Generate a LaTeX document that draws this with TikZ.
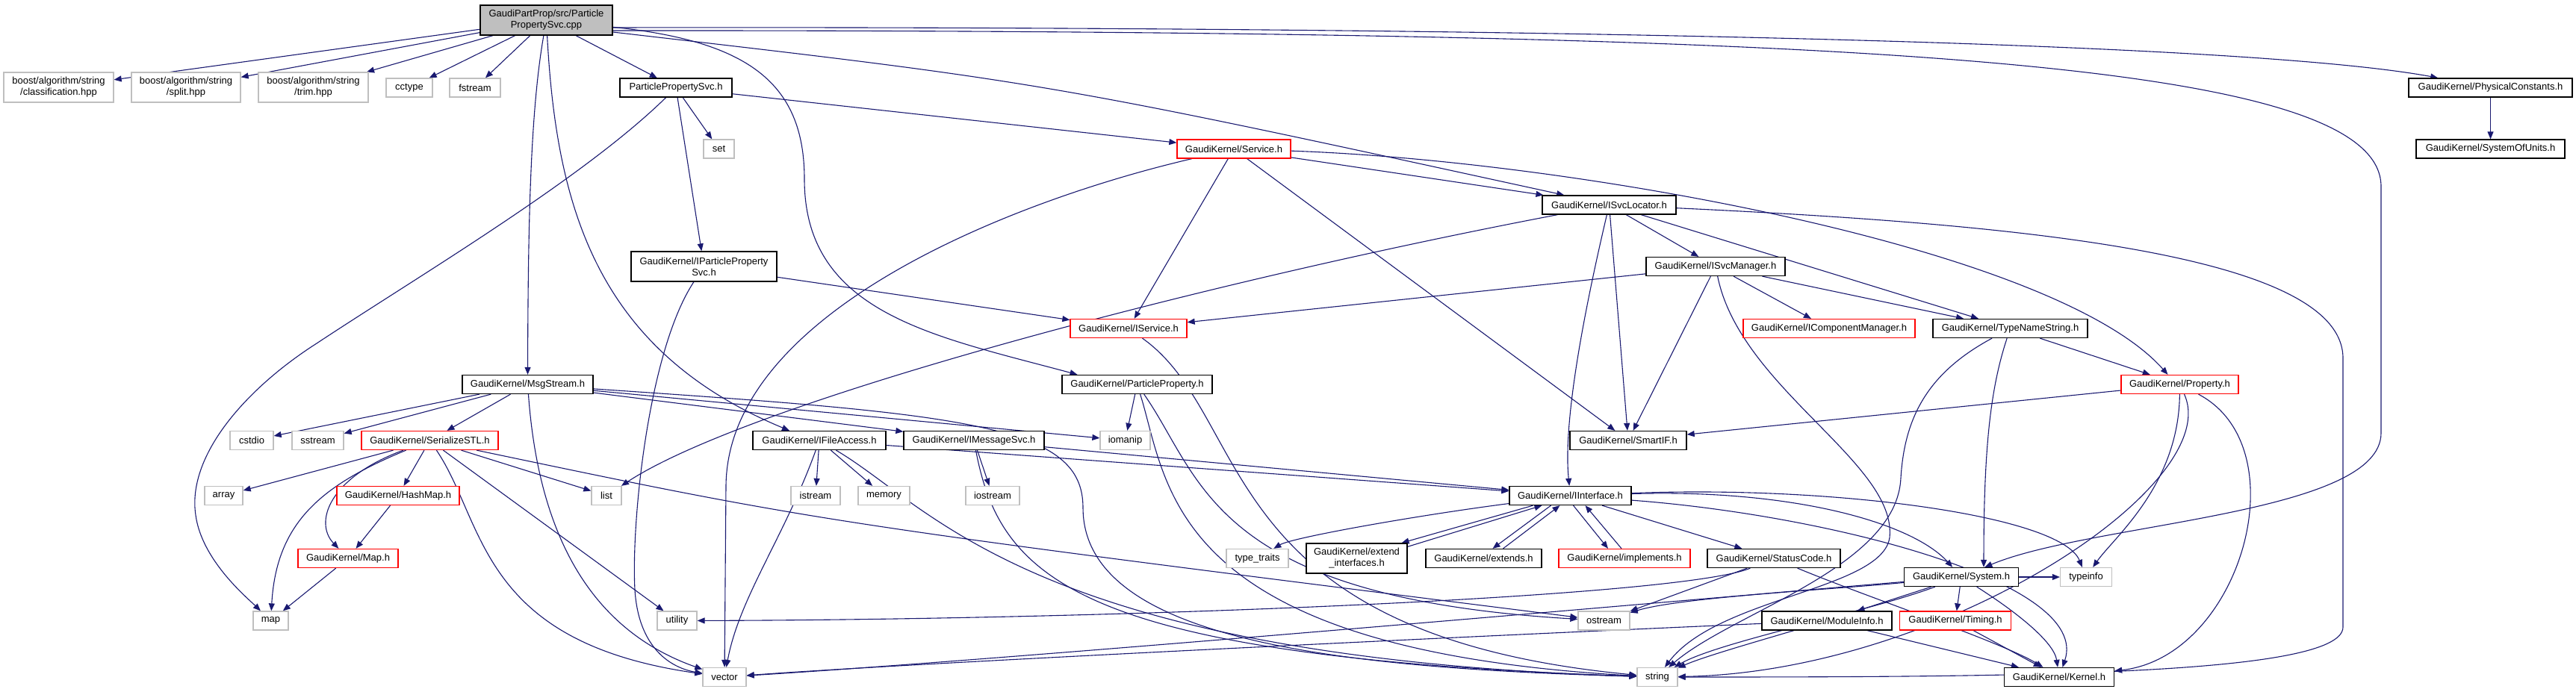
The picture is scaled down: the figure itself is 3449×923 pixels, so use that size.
\documentclass[tikz,border=0pt]{standalone}
\usepackage{fontspec}
\setmainfont{Liberation Sans}
\usetikzlibrary{arrows.meta}
\definecolor{edgec}{HTML}{191970}
\definecolor{gbord}{HTML}{BFBFBF}
\definecolor{rootfill}{HTML}{BFBFBF}
\pgfdeclarelayer{bg}
\pgfsetlayers{bg,main}
\begin{document}
\begin{tikzpicture}[x=1pt,y=-1pt,
  box/.style 2 args={inner sep=0pt, align=center, line width=1.3pt, fill=white,
    minimum width=#1pt, minimum height=#2pt, font=\fontsize{13}{15}\selectfont},
  nb/.style={draw=black},
  gb/.style={draw=gbord},
  rb/.style={draw=red},
  e/.style={draw=edgec, line width=1.1pt, -{Triangle[length=10pt,width=8pt]}}
]
\useasboundingbox (0,0) rectangle (3449,923);
% ---- nodes ----
\node[box={177}{40}, nb, fill=rootfill] (root) at (731.5,27) {GaudiPartProp/src/Particle\\PropertySvc.cpp};
\node[box={147}{40}, gb] (cls) at (78.5,117) {boost/algorithm/string\\/classification.hpp};
\node[box={146}{40}, gb] (split) at (249,117) {boost/algorithm/string\\/split.hpp};
\node[box={147}{40}, gb] (trim) at (419.5,117) {boost/algorithm/string\\/trim.hpp};
\node[box={62}{25}, gb] (cctype) at (548,117.5) {cctype};
\node[box={68}{25}, gb] (fstream) at (636,117.5) {fstream};
\node[box={150}{25}, nb] (pps) at (905,117.5) {ParticlePropertySvc.h};
\node[box={41}{25}, gb] (set) at (962.5,199.5) {set};
\node[box={152}{25}, rb] (svc) at (1652,199.5) {GaudiKernel/Service.h};
\node[box={179}{25}, nb] (isl) at (2154.5,274.5) {GaudiKernel/ISvcLocator.h};
\node[box={219}{25}, nb] (pc) at (3334.5,117.5) {GaudiKernel/PhysicalConstants.h};
\node[box={199}{25}, nb] (sou) at (3334.5,199.5) {GaudiKernel/SystemOfUnits.h};
\node[box={175}{25}, nb] (ms) at (706.5,515) {GaudiKernel/MsgStream.h};
\node[box={195}{40}, nb] (ipps) at (942.5,357) {GaudiKernel/IParticleProperty\\Svc.h};
\node[box={156}{25}, rb] (isv) at (1511,440) {GaudiKernel/IService.h};
\node[box={201}{25}, nb] (pp) at (1522.5,515) {GaudiKernel/ParticleProperty.h};
\node[box={186}{25}, nb] (ism) at (2297,357) {GaudiKernel/ISvcManager.h};
\node[box={230}{25}, rb] (icm) at (2449,440) {GaudiKernel/IComponentManager.h};
\node[box={207}{25}, nb] (tns) at (2691.5,440) {GaudiKernel/TypeNameString.h};
\node[box={157}{25}, rb] (prop) at (2918.5,515) {GaudiKernel/Property.h};
\node[box={156}{25}, nb] (sif) at (2180,590) {GaudiKernel/SmartIF.h};
\node[box={58}{25}, gb] (cstdio) at (337,590) {cstdio};
\node[box={69}{25}, gb] (sstream) at (425.5,590) {sstream};
\node[box={183}{25}, rb] (ser) at (575.5,590) {GaudiKernel/SerializeSTL.h};
\node[box={178}{25}, nb] (ifa) at (1097,590) {GaudiKernel/IFileAccess.h};
\node[box={188}{25}, nb] (ims) at (1304,590) {GaudiKernel/IMessageSvc.h};
\node[box={67}{25}, gb] (iomanip) at (1506.5,590) {iomanip};
\node[box={51}{25}, gb] (array) at (299.5,664) {array};
\node[box={164}{25}, rb] (hm) at (533,664) {GaudiKernel/HashMap.h};
\node[box={40}{25}, gb] (list) at (812,664) {list};
\node[box={66}{25}, gb] (istream) at (1092,664) {istream};
\node[box={69}{25}, gb] (memory) at (1183.5,664) {memory};
\node[box={72}{25}, gb] (iostream) at (1329,664) {iostream};
\node[box={163}{25}, nb] (ii) at (2102.5,664) {GaudiKernel/IInterface.h};
\node[box={134}{25}, rb] (mapk) at (466,748) {GaudiKernel/Map.h};
\node[box={83}{25}, gb] (tt) at (1683.5,748) {type\_traits};
\node[box={135}{40}, nb] (ei) at (1816.5,748) {GaudiKernel/extend\\\_interfaces.h};
\node[box={155}{25}, nb] (ext) at (1986.5,748) {GaudiKernel/extends.h};
\node[box={176}{25}, rb] (impl) at (2175,748) {GaudiKernel/implements.h};
\node[box={178}{25}, nb] (sc) at (2375,748) {GaudiKernel/StatusCode.h};
\node[box={153}{25}, nb] (sys) at (2626,773) {GaudiKernel/System.h};
\node[box={69}{25}, gb] (ti) at (2793,773) {typeinfo};
\node[box={47}{25}, gb] (map) at (362.5,831.5) {map};
\node[box={53}{25}, gb] (util) at (906.5,831.5) {utility};
\node[box={69}{25}, gb] (os) at (2147.5,831.5) {ostream};
\node[box={174}{25}, nb] (mi) at (2446,831.5) {GaudiKernel/ModuleInfo.h};
\node[box={149}{25}, rb] (tim) at (2618,831.5) {GaudiKernel/Timing.h};
\node[box={58}{25}, gb] (vec) at (970,907) {vector};
\node[box={54}{25}, gb] (str) at (2219,907) {string};
\node[box={147}{25}, nb] (ker) at (2757,907) {GaudiKernel/Kernel.h};
% ---- edges ----
\begin{pgfonlayer}{bg}
% root
\draw[e] (root) -- (cls);
\draw[e] (root) -- (split);
\draw[e] (root) -- (trim);
\draw[e] (root) -- (cctype);
\draw[e] (root) -- (fstream);
\draw[e] (root) -- (pps);
\draw[e] (root) .. controls (710,150) and (707,300) .. (ms);
\draw[e] (root) .. controls (745,280) and (800,470) .. ([xshift=-40pt]ifa.north);
\draw[e] (root) .. controls (1000,55) and (1077,110) .. (1077,240) .. controls (1077,420) and (1250,450) .. ([xshift=-80pt]pp.north);
\draw[e] ([yshift=-16pt]root.east) .. controls (1400,110) .. (isl);
\draw[e] ([yshift=-10pt]root.east) .. controls (2000,35) and (3000,55) .. (pc);
\draw[e] ([yshift=-14pt]root.east) .. controls (2500,40) and (3188,80) .. (3188,250) -- (3188,580) .. controls (3188,690) and (2800,700) .. (sys);
% pc
\draw[e] (pc) -- (sou);
% pps
\draw[e] (pps) -- (set);
\draw[e] (pps) -- (svc);
\draw[e] (pps) -- (ipps);
\draw[e] (pps) .. controls (780,240) and (560,370) .. (424,460) .. controls (330,520) and (250,610) .. (262,690) .. controls (270,750) and (330,800) .. (map);
% svc
\draw[e] (svc) -- (isl);
\draw[e] (svc) -- (isv);
\draw[e] (svc) -- (sif);
\draw[e] (svc) .. controls (2100,215) and (2750,330) .. ([xshift=-16pt]prop.north);
\draw[e] (svc) .. controls (1350,270) and (975,420) .. (972,650) -- (vec);
% isl
\draw[e] (isl) -- (ism);
\draw[e] (isl) -- (sif);
\draw[e] (isl) -- (tns);
\draw[e] (isl) .. controls (1600,380) and (1000,540) .. (list);
\draw[e] (isl) .. controls (2125,400) and (2092,560) .. (ii);
\draw[e] (isl) .. controls (2700,300) and (3137,340) .. (3137,480) -- (3137,840) .. controls (3137,905) and (2700,907) .. (str);
% ism
\draw[e] (ism) -- (isv);
\draw[e] (ism) -- (icm);
\draw[e] (ism) -- (tns);
\draw[e] (ism) -- (sif);
\draw[e] (ism) .. controls (2330,520) and (2540,620) .. (2530,720) .. controls (2520,790) and (2300,800) .. (str);
% tns
\draw[e] (tns) -- (prop);
\draw[e] (tns) .. controls (2580,500) and (2550,560) .. (2545,640) .. controls (2540,760) and (2320,820) .. (str);
\draw[e] (tns) .. controls (2665,520) and (2656,600) .. ([xshift=30pt]sys.north);
% prop
\draw[e] (prop) -- (sif);
\draw[e] (prop) .. controls (2917,650) and (2830,720) .. (ti);
\draw[e] (prop) .. controls (2980,650) and (2600,900) .. (str);
\draw[e] (prop) .. controls (3080,600) and (3000,880) .. (ker);
% ipps
\draw[e] (ipps) -- (isv);
\draw[e] (ipps) .. controls (868,470) and (845,700) .. (850,790) .. controls (855,870) and (900,895) .. (vec);
% ms
\draw[e] (ms) -- (cstdio);
\draw[e] (ms) -- (sstream);
\draw[e] (ms) -- (ser);
\draw[e] (ms) -- (ims);
\draw[e] (ms) -- (iomanip);
\draw[e] (ms) .. controls (720,700) and (780,840) .. (vec);
\draw[e] (ms) .. controls (1300,555) and (1450,570) .. (1450,680) .. controls (1450,860) and (1800,895) .. (str);
% isv / pp
\draw[e] (isv) .. controls (1680,560) and (1620,850) .. (str);
\draw[e] (pp) -- (iomanip);
\draw[e] (pp) .. controls (1565,650) and (1560,870) .. (str);
\draw[e] (pp) .. controls (1610,640) and (1620,800) .. (os);
% ifa
\draw[e] (ifa) -- (istream);
\draw[e] (ifa) -- (memory);
\draw[e] (ifa) .. controls (1050,720) and (990,800) .. (vec);
\draw[e] (ifa) -- (ii);
\draw[e] (ifa) .. controls (1250,680) and (1380,880) .. (str);
% ims
\draw[e] (ims) -- (iostream);
\draw[e] (ims) -- (ii);
\draw[e] (ims) .. controls (1340,780) and (1450,880) .. (str);
% ser
\draw[e] (ser) -- (array);
\draw[e] (ser) -- (hm);
\draw[e] (ser) .. controls (440,640) and (420,700) .. (mapk);
\draw[e] (ser) .. controls (430,650) and (370,700) .. (map);
\draw[e] (ser) -- (list);
\draw[e] (ser) -- (util);
\draw[e] (ser) .. controls (650,700) and (640,860) .. (vec);
\draw[e] (ser) .. controls (1100,700) .. (os);
\draw[e] (hm) -- (mapk);
\draw[e] (mapk) -- (map);
% ii
\draw[e] (ii) .. controls (1900,690) and (1730,720) .. (tt);
\draw[e] ([xshift=-50pt]ii.south) -- ([xshift=60pt]ei.north);
\draw[e] ([yshift=-5pt]ei.north east) -- ([xshift=-38pt]ii.south);
\draw[e] ([xshift=-26pt]ii.south) -- ([xshift=12pt]ext.north);
\draw[e] ([xshift=26pt]ext.north) -- ([xshift=-14pt]ii.south);
\draw[e] ([xshift=4pt]ii.south) -- ([xshift=-22pt]impl.north);
\draw[e] ([xshift=-4pt]impl.north) -- ([xshift=20pt]ii.south);
\draw[e] (ii) -- (sc);
\draw[e] (ii) .. controls (2400,655) and (2560,700) .. (sys);
\draw[e] (ii) .. controls (2450,650) and (2760,690) .. (ti);
\draw[e] (ii) .. controls (2450,690) and (2800,780) .. (ker);
% sc
\draw[e] (sc) .. controls (2250,800) and (1500,830) .. (util);
\draw[e] (sc) -- (os);
\draw[e] (sc) .. controls (2500,800) and (2680,860) .. (ker);
% sys
\draw[e] (sys) .. controls (2450,790) and (2250,800) .. (os);
\draw[e] (sys) .. controls (2500,820) and (2300,860) .. (str);
\draw[e] (sys) .. controls (2300,800) and (1400,880) .. (vec);
\draw[e] (sys) -- (ti);
\draw[e] (sys) -- (tim);
\draw[e] (sys) -- (mi);
\draw[e] (sys) .. controls (2700,820) and (2750,860) .. (ker);
% mi / tim
\draw[e] (mi) .. controls (2350,860) and (2280,880) .. (str);
\draw[e] (mi) .. controls (1800,860) and (1200,890) .. (vec);
\draw[e] (mi) -- (ker);
\draw[e] (tim) -- (ker);
\end{pgfonlayer}
\end{tikzpicture}
\end{document}
